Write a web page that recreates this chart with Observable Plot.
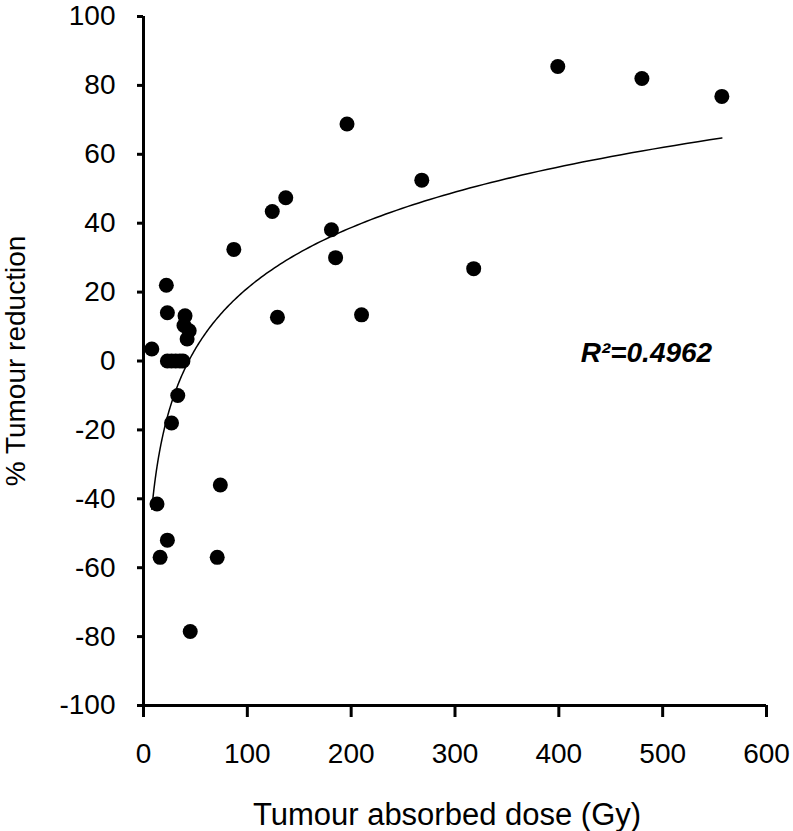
<!DOCTYPE html>
<html>
<head>
<meta charset="utf-8">
<script src="https://cdn.jsdelivr.net/npm/d3@7"></script>
<script src="https://cdn.jsdelivr.net/npm/@observablehq/plot@0.6"></script>
<style>
  html, body { margin: 0; padding: 0; background: #fff; }
  #chart svg { display: block; }
</style>
</head>
<body>
<div id="chart"></div>
<script>
// Data
const dose = [8, 13, 16, 23, 22, 23, 27, 33, 23, 27, 31, 35, 38, 39, 40, 42, 44, 45, 71, 74, 87, 124, 129, 137, 181, 185, 196, 210, 268, 318, 399, 480, 557];
const reduction = [3.5, -41.5, -57, -52, 22, 14, -18, -10, 0, 0, 0, 0, 0, 10.3, 13.1, 6.4, 8.8, -78.5, -57, -36, 32.4, 43.4, 12.7, 47.4, 38.1, 30, 68.8, 13.4, 52.5, 26.8, 85.5, 82, 76.8];
const xTicks = [0, 100, 200, 300, 400, 500, 600];
const yTicks = [-100, -80, -60, -40, -20, 0, 20, 40, 60, 80, 100];
const xTitle = "Tumour absorbed dose (Gy)";
const yTitle = "% Tumour reduction";
const r2Label = "R\u00B2=0.4962";

const points = dose.map((d, i) => ({dose: d, reduction: reduction[i]}));

// Logarithmic trendline (least squares of reduction on ln(dose)), over the data range
const lx = dose.map(Math.log);
const mx = d3.mean(lx), my = d3.mean(reduction);
const slope = d3.sum(lx, (v, i) => (v - mx) * (reduction[i] - my)) / d3.sum(lx, v => (v - mx) ** 2);
const intercept = my - slope * mx;
const [xmin, xmax] = d3.extent(dose);
const trend = d3.range(0, 201).map(i => {
  const x = xmin * Math.pow(xmax / xmin, i / 200);
  return {dose: x, reduction: intercept + slope * Math.log(x)};
});

const chart = Plot.plot({
  width: 793,
  height: 831,
  marginTop: 16,
  marginBottom: 126,
  marginLeft: 143,
  marginRight: 27,
  style: {fontFamily: "'Liberation Sans', Arial, sans-serif", fontSize: "28px", color: "#000", background: "#fff"},
  x: {domain: [0, 600]},
  y: {domain: [-100, 100]},
  marks: [
    Plot.axisX({ticks: xTicks, tickSize: 12, tickPadding: 26, strokeWidth: 3, fontSize: 28,
      tickFormat: d => String(d), label: null}),
    Plot.axisY({ticks: yTicks, tickSize: 6, tickPadding: 22, strokeWidth: 3, fontSize: 28,
      tickFormat: d => String(d), label: yTitle, labelAnchor: "center", labelArrow: "none", labelOffset: 138}),
    Plot.text([xTitle], {frameAnchor: "bottom", dx: -8, dy: 110, lineAnchor: "middle", text: d => d, fontSize: 31}),
    Plot.ruleX([0], {strokeWidth: 3}),
    Plot.ruleY([-100], {strokeWidth: 3}),
    Plot.line(trend, {x: "dose", y: "reduction", stroke: "#000", strokeWidth: 1.5}),
    Plot.dot(points, {x: "dose", y: "reduction", r: 7.5, fill: "#000", stroke: "none"}),
    Plot.text([r2Label], {x: 421, y: 2.3, text: d => d, textAnchor: "start", lineAnchor: "middle", fontSize: 28, fontStyle: "italic", fontWeight: "bold"})
  ]
});
document.getElementById("chart").append(chart);
</script>
</body>
</html>
